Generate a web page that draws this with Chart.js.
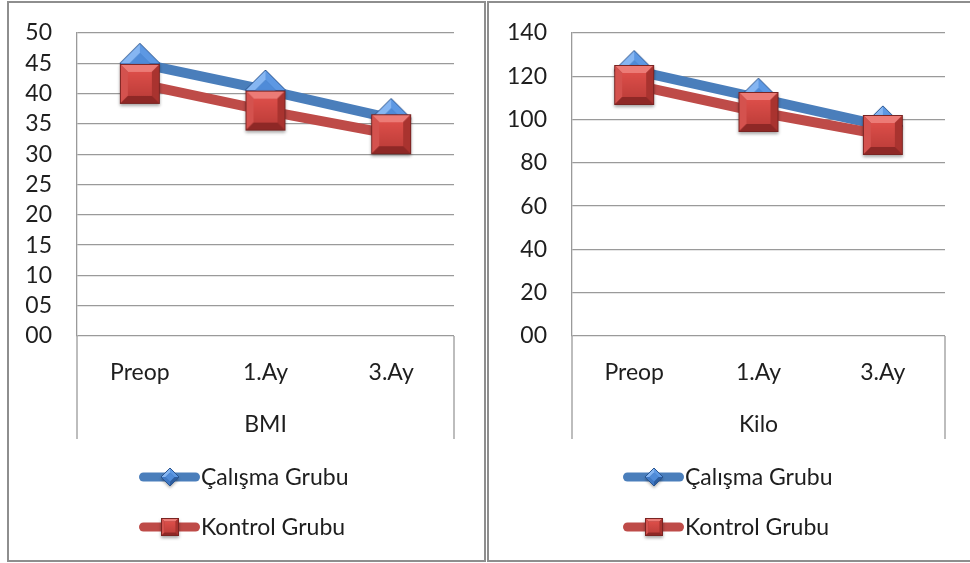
<!DOCTYPE html>
<html><head><meta charset="utf-8">
<script src="https://cdn.jsdelivr.net/npm/chart.js@4.4.1/dist/chart.umd.min.js"></script>
<style>
html,body{margin:0;padding:0;width:970px;height:563px;overflow:hidden;background:#fff;}
.panel{position:absolute;top:1px;height:561px;box-sizing:border-box;border:2px solid #8e8e8e;background:#fff;}
#p1{left:7px;width:479px;}
#p2{left:487px;width:500px;}
canvas{display:block;}
</style></head><body>
<div class="panel" id="p1"><canvas id="c1" width="475" height="557" style="width:475px;height:557px"></canvas></div>
<div class="panel" id="p2"><canvas id="c2" width="496" height="557" style="width:496px;height:557px"></canvas></div>
<script>
// ---- data ----
const categories = ['Preop', '1.Ay', '3.Ay'];
const seriesNames = ['Çalışma Grubu', 'Kontrol Grubu'];
const bmiCalisma = [45.0, 40.6, 35.9];
const bmiKontrol = [41.6, 37.2, 33.3];
const kiloCalisma = [122.7, 109.9, 97.1];
const kiloKontrol = [116.0, 103.5, 92.9];
const bmiTickLabels = ['00', '05', '10', '15', '20', '25', '30', '35', '40', '45', '50'];
const kiloTickLabels = ['00', '20', '40', '60', '80', '100', '120', '140'];
const axisTitles = ['BMI', 'Kilo'];

// ---- styles ----
const FONT = {family: 'Lato, "Open Sans", sans-serif', size: 23};
const TEXT = '#1e1e1e';
const GRID = '#9a9a9a';
const BLUE = '#4a7ebb';
const RED = '#be4b48';

function poly(g, pts, col) {
  g.beginPath(); g.moveTo(pts[0][0], pts[0][1]);
  for (let i = 1; i < pts.length; i++) g.lineTo(pts[i][0], pts[i][1]);
  g.closePath(); g.fillStyle = col; g.fill();
}
function squareMarker(size) {
  const pad = 5, c = document.createElement('canvas');
  c.width = c.height = size + pad * 2;
  const g = c.getContext('2d');
  const x0 = pad, y0 = pad, X1 = pad + size, Y1 = pad + size, b = size * 0.2;
  const ix0 = x0 + b, iy0 = y0 + b, ix1 = X1 - b, iy1 = Y1 - b;
  g.save(); g.shadowColor = 'rgba(0,0,0,0.35)'; g.shadowBlur = 3; g.shadowOffsetY = 2;
  g.fillStyle = '#a8322f'; g.fillRect(x0, y0, size, size); g.restore();
  poly(g, [[x0, y0], [X1, y0], [ix1, iy0], [ix0, iy0]], '#ec7b76');
  poly(g, [[x0, y0], [ix0, iy0], [ix0, iy1], [x0, Y1]], '#d4524e');
  poly(g, [[X1, y0], [X1, Y1], [ix1, iy1], [ix1, iy0]], '#a9332f');
  poly(g, [[x0, Y1], [ix0, iy1], [ix1, iy1], [X1, Y1]], '#8e2826');
  const gr = g.createLinearGradient(0, iy0, 0, iy1);
  gr.addColorStop(0, '#dc4e49'); gr.addColorStop(1, '#c03f3b');
  g.fillStyle = gr; g.fillRect(ix0, iy0, ix1 - ix0, iy1 - iy0);
  g.strokeStyle = '#7a2422'; g.lineWidth = 1; g.strokeRect(x0 + 0.5, y0 + 0.5, size - 1, size - 1);
  return c;
}
function diamondMarker(size) {
  const pad = 5, c = document.createElement('canvas');
  c.width = c.height = size + pad * 2;
  const g = c.getContext('2d');
  const cx = c.width / 2, cy = c.height / 2, r = size / 2, ri = r * 0.5;
  const T = [cx, cy - r], L = [cx - r, cy], B = [cx, cy + r], R = [cx + r, cy];
  const t = [cx, cy - ri], l = [cx - ri, cy], b = [cx, cy + ri], rr = [cx + ri, cy];
  g.save(); g.shadowColor = 'rgba(0,0,0,0.35)'; g.shadowBlur = 3; g.shadowOffsetY = 2;
  poly(g, [T, R, B, L], '#3a6fb5'); g.restore();
  poly(g, [T, t, l, L], '#86b6f2');
  poly(g, [T, R, rr, t], '#5d98e3');
  poly(g, [L, l, b, B], '#3f78c4');
  poly(g, [R, B, b, rr], '#2c5d9f');
  poly(g, [t, rr, b, l], '#4f8bd8');
  g.beginPath(); g.moveTo(T[0], T[1]); g.lineTo(R[0], R[1]); g.lineTo(B[0], B[1]); g.lineTo(L[0], L[1]); g.closePath();
  g.strokeStyle = '#2a5590'; g.lineWidth = 1; g.stroke();
  return c;
}

const bigDiamond = diamondMarker(40), bigSquare = squareMarker(40);
const smallDiamond = diamondMarker(18), smallSquare = squareMarker(18);

const catFrame = {
  id: 'catFrame',
  afterDraw(chart) {
    const x = chart.scales.x, ctx = chart.ctx;
    ctx.save(); ctx.strokeStyle = GRID; ctx.lineWidth = 1.3; ctx.beginPath();
    [x.left, x.right].forEach(px => { ctx.moveTo(px, chart.chartArea.bottom); ctx.lineTo(px, x.bottom); });
    ctx.stroke(); ctx.restore();
  }
};
const xlLegend = {
  id: 'xlLegend',
  afterDraw(chart, args, o) {
    const ctx = chart.ctx;
    chart.data.datasets.forEach((ds, i) => {
      const y = o.y0 + i * o.dy;
      ctx.save();
      ctx.strokeStyle = ds.borderColor; ctx.lineWidth = 9; ctx.lineCap = 'round';
      ctx.beginPath(); ctx.moveTo(o.x0 + 4.5, y); ctx.lineTo(o.x0 + o.w - 4.5, y); ctx.stroke();
      const img = ds.legendMarker;
      ctx.drawImage(img, Math.round(o.x0 + o.w / 2 - img.width / 2), Math.round(y - img.height / 2));
      ctx.font = FONT.size + 'px ' + FONT.family; ctx.fillStyle = TEXT; ctx.textBaseline = 'middle';
      ctx.fillText(ds.label, o.x0 + o.w + 1, y + 1);
      ctx.restore();
    });
  }
};

function makeChart(id, s1, s2, yMax, step, tickLabels, title, yw, padRight, legendX) {
  return new Chart(document.getElementById(id), {
    type: 'line',
    data: {
      labels: categories,
      datasets: [
        {label: seriesNames[0], data: s1, borderColor: BLUE, backgroundColor: BLUE, borderWidth: 10,
         pointStyle: bigDiamond, pointRadius: 20, legendMarker: smallDiamond, order: 2, tension: 0},
        {label: seriesNames[1], data: s2, borderColor: RED, backgroundColor: RED, borderWidth: 10,
         pointStyle: bigSquare, pointRadius: 20, legendMarker: smallSquare, order: 1, tension: 0}
      ]
    },
    options: {
      responsive: false, animation: false, devicePixelRatio: 1,
      layout: {padding: {left: 0, right: padRight, top: 29, bottom: 121}},
      plugins: {legend: {display: false}, tooltip: {enabled: false},
                xlLegend: {x0: legendX, y0: 474, dy: 50, w: 61}},
      scales: {
        x: {offset: true, grid: {display: false, drawTicks: false}, border: {display: false},
            ticks: {padding: 23, color: TEXT, font: FONT, maxRotation: 0},
            title: {display: true, text: title, color: TEXT, font: FONT, padding: {top: 0, bottom: 1}},
            afterFit: s => { s.height = 103; }},
        y: {min: 0, max: yMax,
            ticks: {stepSize: step, padding: 25, autoSkip: false, color: TEXT, font: FONT,
                    callback: v => tickLabels[Math.round(v / step)]},
            grid: {color: GRID, lineWidth: 1.3, drawTicks: false},
            border: {display: true, color: GRID, width: 1.3},
            afterFit: s => { s.width = yw; s.paddingTop = 0; s.paddingBottom = 0; }}
      }
    },
    plugins: [catFrame, xlLegend]
  });
}

makeChart('c1', bmiCalisma, bmiKontrol, 50, 5, bmiTickLabels, axisTitles[0], 68, 29, 130);
makeChart('c2', kiloCalisma, kiloKontrol, 140, 20, kiloTickLabels, axisTitles[1], 83, 40, 134);
</script>
</body></html>
